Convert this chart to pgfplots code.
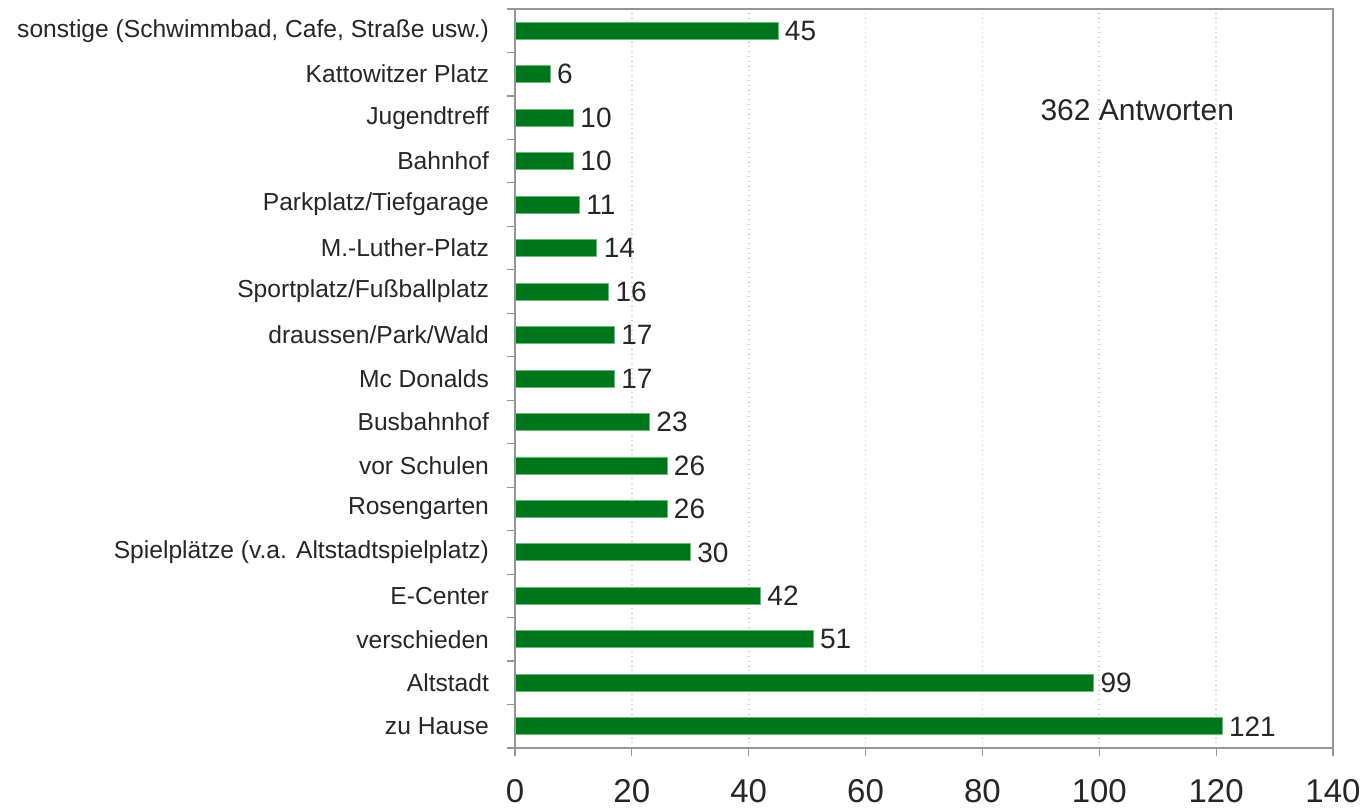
\documentclass[border=0pt]{standalone}
\usepackage{fontspec}
\setmainfont{Liberation Sans}
\usepackage{pgfplots}
\pgfplotsset{compat=1.18}
\definecolor{bargreen}{RGB}{0,118,28}
\definecolor{framegray}{RGB}{150,150,150}

\begin{document}
\begin{tikzpicture}
\begin{axis}[
    name=ax,
    scale only axis,
    width=409pt, height=369.5pt,
    xbar, bar width=8.5pt,
    xmin=0, xmax=140,
    ymin=-0.5, ymax=16.5,
    xtick={0,20,...,140},
    ytick={0,...,16},
    yticklabels={zu Hause, Altstadt, verschieden, E-Center,
      {Spielplätze (v.a. Altstadtspielplatz)}, Rosengarten, vor Schulen,
      Busbahnhof, Mc Donalds, draussen/Park/Wald, Sportplatz/Fußballplatz,
      M.-Luther-Platz, Parkplatz/Tiefgarage, Bahnhof, Jugendtreff,
      Kattowitzer Platz, {sonstige (Schwimmbad, Cafe, Straße usw.)}},
    extra y ticks={-0.5,0.5,...,16.5},
    extra y tick labels={},
    extra y tick style={ytick style={draw=framegray, line width=0.6pt}},
    tick pos=left,
    /pgf/number format/assume math mode=true,
    axis line style={framegray, line width=0.8pt},
    xmajorgrids,
    major grid style={dotted, gray!40, line width=0.9pt},
    xtick style={framegray, line width=0.6pt},
    ytick style={draw=none},
    major tick length=4pt,
    tick align=outside,
    yticklabel style={font=\fontsize{12.3}{14}\selectfont, text=black!85},
    xticklabel style={font=\fontsize{16.5}{19}\selectfont, text=black!85,
      inner xsep=0pt},
    xticklabel shift=8pt,
    yticklabel shift=5.5pt,
    nodes near coords,
    every node near coord/.append style={anchor=west, xshift=0pt,
      font=\fontsize{14}{16}\selectfont, text=black!85},
]
\addplot[fill=bargreen, draw=bargreen!80!green!60] coordinates {
    (121,0) (99,1) (51,2) (42,3) (30,4) (26,5) (26,6) (23,7) (17,8)
    (17,9) (16,10) (14,11) (11,12) (10,13) (10,14) (6,15) (45,16)
};
\node[anchor=center, font=\fontsize{15}{18}\selectfont, text=black!85]
    at (axis cs:106.5,14.18) {362 Antworten};
\end{axis}
\path (ax.south west) ++(-257.5pt,-28pt) coordinate (bl);
\path (ax.north east) ++(14pt,4.5pt) coordinate (tr);
\path (bl) (tr);
\end{tikzpicture}
\end{document}
